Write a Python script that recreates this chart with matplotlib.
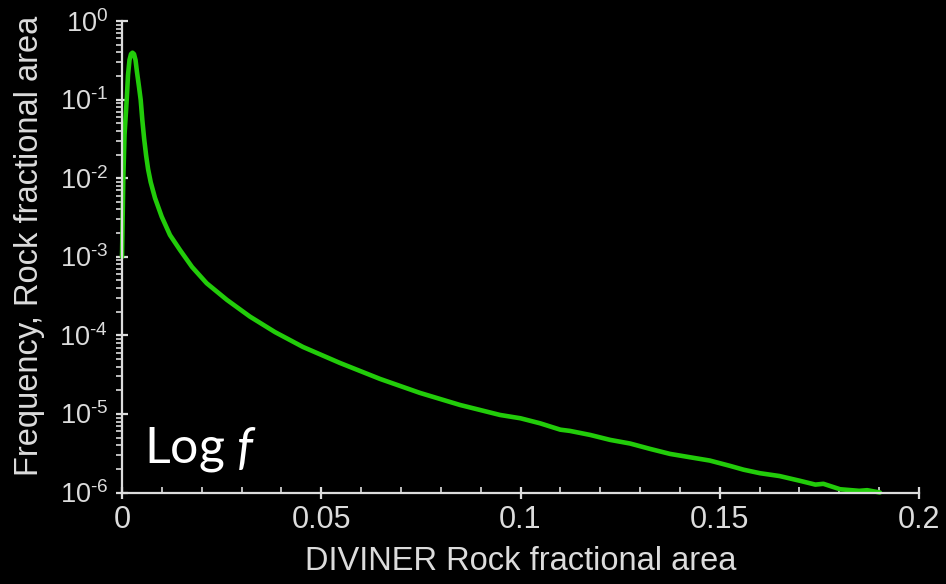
import matplotlib
matplotlib.use("Agg")
import matplotlib.pyplot as plt
from matplotlib.ticker import FixedLocator, LogLocator, NullFormatter, MultipleLocator

plt.rcParams["font.family"] = ["Liberation Sans", "DejaVu Sans"]
plt.rcParams["mathtext.fontset"] = "custom"
plt.rcParams["mathtext.rm"] = "Liberation Sans"
plt.rcParams["mathtext.sf"] = "Liberation Sans"
plt.rcParams["mathtext.it"] = "Lato:italic"

# Rock fractional area distribution (frequency vs. DIVINER rock fraction)
rock_fraction = [
    0.0, 0.00033, 0.00063, 0.00118, 0.00151, 0.00188, 0.00226, 0.00263,
    0.00301, 0.00339, 0.00376, 0.00427, 0.00469, 0.00510, 0.00555, 0.00605,
    0.00655, 0.00720, 0.00828, 0.00996, 0.01204, 0.01455, 0.01757, 0.02125,
    0.02635, 0.03212, 0.03839, 0.04542, 0.05470, 0.06474, 0.07478, 0.08482,
    0.09486, 0.1000, 0.1049, 0.1100, 0.1124, 0.1175, 0.1225, 0.1275,
    0.1325, 0.1375, 0.1425, 0.1475, 0.1526, 0.1560, 0.1601, 0.1650,
    0.1701, 0.1740, 0.1760, 0.1802, 0.1850, 0.1870, 0.1902,
]
frequency = [
    1.0e-3, 1.0e-2, 3.55e-2, 9.9e-2, 0.206, 0.319, 0.380, 0.395,
    0.380, 0.319, 0.224, 0.145, 9.9e-2, 5.5e-2, 3.2e-2, 1.95e-2,
    1.3e-2, 8.9e-3, 5.6e-3, 3.24e-3, 1.89e-3, 1.22e-3, 7.42e-4, 4.60e-4,
    2.82e-4, 1.73e-4, 1.10e-4, 7.11e-5, 4.45e-5, 2.79e-5, 1.85e-5, 1.30e-5,
    9.7e-6, 8.8e-6, 7.6e-6, 6.3e-6, 6.08e-6, 5.4e-6, 4.67e-6, 4.2e-6,
    3.59e-6, 3.1e-6, 2.81e-6, 2.55e-6, 2.18e-6, 1.95e-6, 1.76e-6, 1.62e-6,
    1.41e-6, 1.26e-6, 1.29e-6, 1.10e-6, 1.05e-6, 1.07e-6, 1.0e-6,
]

x_ticks = [0, 0.05, 0.1, 0.15, 0.2]
x_tick_labels = ["0", "0.05", "0.1", "0.15", "0.2"]
y_ticks = [1e-6, 1e-5, 1e-4, 1e-3, 1e-2, 1e-1, 1e0]
y_tick_labels = [r"$10^{\text{-6}}$", r"$10^{\text{-5}}$", r"$10^{\text{-4}}$",
                 r"$10^{\text{-3}}$", r"$10^{\text{-2}}$", r"$10^{\text{-1}}$",
                 r"$10^{0}$"]

fg = "#dcdcdc"
green = "#22cc0a"

fig = plt.figure(figsize=(9.46, 5.84), dpi=100, facecolor="black")
ax = fig.add_axes([122 / 946, 1 - 492.5 / 584, 797 / 946, 471.5 / 584])
ax.set_facecolor("black")

ax.plot(rock_fraction, frequency, color=green, lw=3.3, solid_capstyle="round",
        solid_joinstyle="round", clip_on=False)

ax.set_yscale("log")
ax.set_xlim(0, 0.2)
ax.set_ylim(1e-6, 1e0)

for side in ("top", "right"):
    ax.spines[side].set_visible(False)
for side in ("left", "bottom"):
    ax.spines[side].set_color(fg)
    ax.spines[side].set_linewidth(1.6)

ax.xaxis.set_major_locator(FixedLocator(x_ticks))
ax.set_xticklabels(x_tick_labels)
ax.xaxis.set_minor_locator(MultipleLocator(0.01))
ax.yaxis.set_major_locator(FixedLocator(y_ticks))
ax.set_yticklabels(y_tick_labels)
ax.yaxis.set_minor_locator(LogLocator(base=10, subs=range(2, 10), numticks=20))
ax.yaxis.set_minor_formatter(NullFormatter())

ax.tick_params(axis="x", which="major", direction="inout", length=8, width=1.6,
               color=fg, labelcolor=fg, labelsize=22, pad=5)
ax.tick_params(axis="x", which="minor", direction="in", length=4, width=1.2, color=fg)
ax.tick_params(axis="y", which="major", direction="inout", length=8, width=1.6,
               color=fg, labelcolor=fg, labelsize=19.5, pad=6)
ax.tick_params(axis="y", which="minor", direction="out", length=4, width=1.2, color=fg)

ax.set_xlabel("DIVINER Rock fractional area", color=fg, fontsize=23.5, labelpad=8)
ax.set_ylabel("Frequency, Rock fractional area", color=fg, fontsize=23.5, labelpad=10)
ax.yaxis.label.set_y(0.523)

fig.text(144 / 946, 1 - 463 / 584, r"Log $\mathit{f}$", color="white",
         fontsize=36, family="Lato", va="baseline", ha="left")

fig.savefig("out.png", dpi=100, facecolor="black")
